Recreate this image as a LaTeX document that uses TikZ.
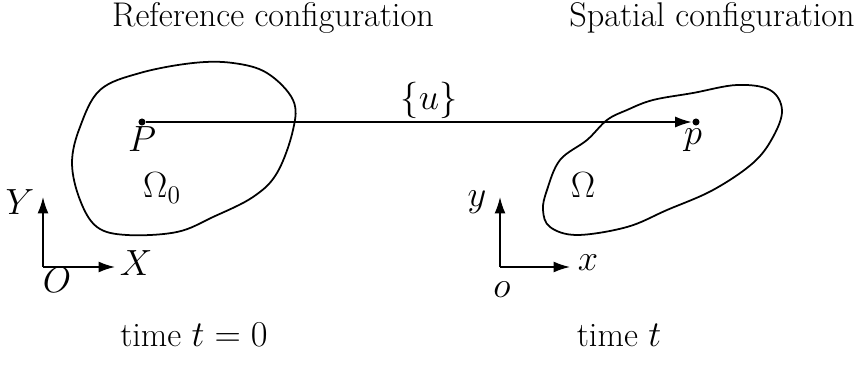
\documentclass[tikz,border=0pt]{standalone}
\usetikzlibrary{arrows.meta,positioning}
\tikzset{
  dot/.style={circle,fill,inner sep=0pt,minimum size=4pt},
  axisarrow/.style={-{Latex[length=3.3mm,width=2.2mm]}},
  body/.style={line width=1pt},
}
\begin{document}
\begin{tikzpicture}[font=\fontsize{19.5}{23}\selectfont,line width=0.9pt]
\useasboundingbox (0,0) rectangle (17.2,7.3);

\draw(5.46,6.76) node[anchor=base] (reftitle) {Reference configuration};
\draw(14.24,6.76) node[anchor=base] (spatitle) {Spatial configuration};
\draw(3.88,0.38) node[anchor=base] (reftime) {time $t=0$};
\draw(12.38,0.38) node[anchor=base] (spatime) {time $t$};

% reference body
\draw[body] plot[smooth cycle,tension=0.6] coordinates {
  (3.86,6.04) (2.80,5.84) (2.00,5.50) (1.60,4.76) (1.44,4.04) (1.60,3.30)
  (1.94,2.76) (2.54,2.60) (3.54,2.66) (4.26,2.96) (5.06,3.36) (5.54,3.84)
  (5.86,4.70) (5.86,5.30) (5.34,5.84) (4.66,6.04)};
\draw(3.24,3.54) node (Om0) {$\Omega_0$};

% spatial body
\draw[body] plot[smooth cycle,tension=0.6] coordinates {
  (10.86,3.10) (10.94,3.50) (11.20,4.10) (11.74,4.50) (12.14,4.90) (12.54,5.10)
  (13.06,5.30) (13.86,5.44) (14.74,5.60) (15.40,5.50) (15.64,5.10) (15.46,4.56)
  (15.06,4.04) (14.26,3.50) (13.34,3.10) (12.54,2.76) (11.54,2.60) (11.00,2.76)};
\draw(11.66,3.60) node (Om) {$\Omega$};

% points and displacement
\draw(2.84,4.86) node[dot] (P) {};
\draw(13.92,4.86) node[dot] (p) {};
\draw(2.84,4.52) node (Plab) {$P$};
\draw(13.86,4.50) node (plab) {$p$};
\draw[axisarrow] (P) -- (p);
\draw(8.58,5.30) node (u) {$\{u\}$};

% reference axes
\coordinate (O) at (0.86,1.96);
\coordinate (Xend) at (2.30,1.96);
\coordinate (Yend) at (0.86,3.36);
\draw[axisarrow] (O) -- (Xend);
\draw[axisarrow] (O) -- (Yend);
\draw(2.72,2.04) node (Xlab) {$X$};
\draw(0.40,3.26) node (Ylab) {$Y$};
\draw(1.14,1.70) node (Olab) {$O$};

% spatial axes
\coordinate (o) at (10.00,1.96);
\coordinate (xend) at (11.40,1.96);
\coordinate (yend) at (10.00,3.36);
\draw[axisarrow] (o) -- (xend);
\draw[axisarrow] (o) -- (yend);
\draw(11.76,2.04) node (xlab) {$x$};
\draw(9.54,3.26) node (ylab) {$y$};
\draw(10.04,1.50) node (olab) {$o$};
\end{tikzpicture}
\end{document}
